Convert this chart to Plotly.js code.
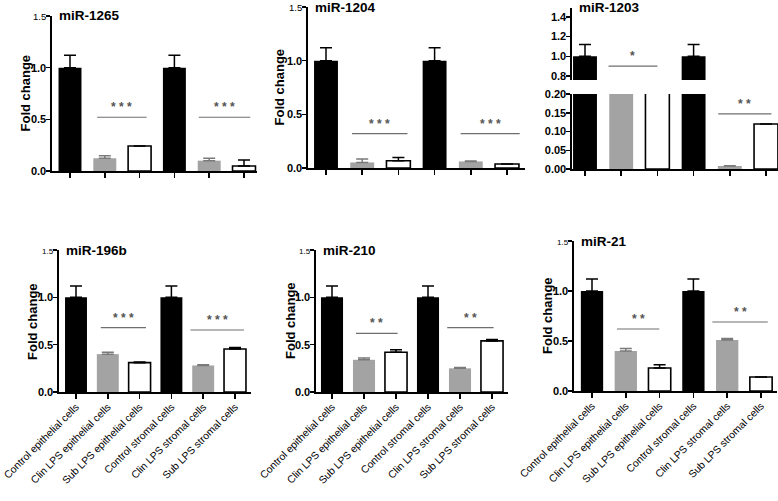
<!DOCTYPE html>
<html>
<head>
<meta charset="utf-8">
<script src="https://cdn.plot.ly/plotly-3.0.1.min.js"></script>
<style>html,body{margin:0;padding:0;background:#fff;}#chart{width:778px;height:501px;}</style>
</head>
<body>
<div id="chart"></div>
<script>
// ---------- DATA ----------
const categories = ['Control epithelial cells','Clin LPS epithelial cells','Sub LPS epithelial cells','Control stromal cells','Clin LPS stromal cells','Sub LPS stromal cells'];
const panelNames = ['miR-1265','miR-1204','miR-1203','miR-196b','miR-210','miR-21'];

const mir1265    = [1.0, 0.123, 0.242, 1.0, 0.10, 0.048];
const mir1265Err = [0.12, 0.025, 0, 0.12, 0.023, 0.058];
const mir1204    = [1.0, 0.052, 0.068, 1.0, 0.061, 0.037];
const mir1204Err = [0.12, 0.031, 0.030, 0.12, 0.004, 0];
const mir1203    = [1.0, 0.45, 0.35, 1.0, 0.008, 0.12];
const mir1203Err = [0.12, 0, 0, 0.12, 0.001, 0];
const mir196b    = [1.0, 0.40, 0.31, 1.0, 0.28, 0.455];
const mir196bErr = [0.12, 0.02, 0.006, 0.12, 0.008, 0.015];
const mir210     = [1.0, 0.34, 0.42, 1.0, 0.25, 0.54];
const mir210Err  = [0.12, 0.02, 0.025, 0.12, 0.008, 0.015];
const mir21      = [1.0, 0.40, 0.23, 1.0, 0.51, 0.14];
const mir21Err   = [0.12, 0.025, 0.032, 0.12, 0.015, 0];

// significance brackets
const sigPanel = [0, 0, 1, 1, 2, 2, 3, 3, 4, 4, 5, 5];
const sigFrom  = [0.78, 3.7, 0.72, 3.72, 0.65, 3.68, 0.78, 3.6, 0.75, 3.6, 0.74, 3.56];
const sigTo    = [2.2, 5.18, 2.25, 5.35, 2.0, 5.15, 2.2, 5.28, 2.05, 5.05, 1.99, 5.2];
const sigY     = [0.52, 0.52, 0.32, 0.32, 0.90, 0.147, 0.68, 0.655, 0.62, 0.68, 0.62, 0.69];
const sigLabel = ['* * *','* * *','* * *','* * *','*','* *','* * *','* * *','* *','* *','* *','* *'];

const allValues = [mir1265, mir1204, mir1203, mir196b, mir210, mir21];
const allErrors = [mir1265Err, mir1204Err, mir1203Err, mir196bErr, mir210Err, mir21Err];

// ---------- LAYOUT GEOMETRY (pixels) ----------
const W = 778, H = 501;
const geo = [
  {xl:52,  xr:257, yb:171, yt:16,  x0:70,  dx:34.8, ymax:1.5, bw:0.66, ytx:25},
  {xl:308, xr:525, yb:168, yt:7,   x0:326, dx:36.2, ymax:1.5, bw:0.66, ytx:279},
  {xl:572, xr:778, yb:169, yt:94,  x0:585, dx:36.2, ymax:0.2, bw:0.66, ytx:0},
  {xl:59,  xr:251, yb:392, yt:250, x0:76,  dx:31.8, ymax:1.5, bw:0.69, ytx:32},
  {xl:316, xr:508, yb:392, yt:250, x0:332, dx:32.0, ymax:1.5, bw:0.69, ytx:290},
  {xl:574, xr:777, yb:391, yt:241, x0:592, dx:33.8, ymax:1.5, bw:0.66, ytx:547}
];

const FONT = 'Arial, "Liberation Sans", sans-serif';
const groups = [
  {idx:[0,3], color:'#000000', line:'#000000', lw:0, err:'#000000'},
  {idx:[1,4], color:'#a3a3a3', line:'#a3a3a3', lw:0, err:'#7a7a7a'},
  {idx:[2,5], color:'#ffffff', line:'#000000', lw:1.6, err:'#000000'}
];

const data = [];
const layout = {
  width: W, height: H,
  margin: {l:0, r:0, t:0, b:0},
  paper_bgcolor: '#fff', plot_bgcolor: 'rgba(0,0,0,0)',
  showlegend: false, barmode: 'overlay',
  font: {family: FONT, color: '#000'},
  shapes: [], annotations: []
};

const catIdx = categories.map((c, i) => i);
const ticks15 = (small) => ['<b>0.0</b>','<b>0.5</b>','<b>1.0</b>','<span style="font-size:' + small + 'px">1.5</span>'];

function yAxisBase() {
  return {
    showgrid: false, zeroline: false,
    showline: true, linecolor: '#000', linewidth: 1.6,
    ticks: 'outside', ticklen: 4, tickwidth: 1.5, tickcolor: '#000',
    ticklabelstandoff: -2,
    tickfont: {family: FONT, size: 11, color: '#000'}, fixedrange: true
  };
}

function addBars(p, xa, ya) {
  const vals = allValues[p], errs = allErrors[p], g = geo[p];
  groups.forEach(gr => {
    data.push({
      type: 'bar', xaxis: xa, yaxis: ya,
      x: gr.idx.map(i => catIdx[i]),
      y: gr.idx.map(i => vals[i]),
      width: g.bw,
      marker: {color: gr.color, line: {color: gr.line, width: gr.lw}},
      error_y: {type: 'data', symmetric: false,
                array: gr.idx.map(i => errs[i]),
                arrayminus: gr.idx.map(() => 0),
                color: gr.err, thickness: 1.5, width: 6},
      hoverinfo: 'skip'
    });
  });
}

for (let p = 0; p < 6; p++) {
  const g = geo[p];
  const n = p + 1;
  const xk = 'xaxis' + (n === 1 ? '' : n), yk = 'yaxis' + (n === 1 ? '' : n);
  const xa = 'x' + (n === 1 ? '' : n), ya = 'y' + (n === 1 ? '' : n);
  const bottomRow = p >= 3;
  layout[xk] = {
    domain: [g.xl / W, g.xr / W],
    range: [(g.xl - g.x0) / g.dx, (g.xr - g.x0) / g.dx],
    anchor: ya, showgrid: false, zeroline: false,
    showline: true, linecolor: '#000', linewidth: 1.8,
    ticks: 'outside', ticklen: 5, tickwidth: 1.5, tickcolor: '#000',
    tickmode: 'array', tickvals: catIdx, ticktext: categories,
    showticklabels: bottomRow, tickangle: -45, ticklabeloverflow: 'allow',
    ticklabelstandoff: -2,
    tickfont: {family: FONT, size: 10.4, color: '#000'}, fixedrange: true
  };
  const yax = Object.assign(yAxisBase(), {
    domain: [1 - g.yb / H, 1 - g.yt / H],
    range: [0, g.ymax], anchor: xa, tickmode: 'array'
  });
  if (p === 2) {
    yax.tickvals = [0, 0.05, 0.10, 0.15, 0.20];
    yax.ticktext = ['<b>0.00</b>','<b>0.05</b>','<b>0.10</b>','<b>0.15</b>','<b>0.20</b>'];
  } else {
    yax.tickvals = [0, 0.5, 1.0, 1.5];
    yax.ticktext = ticks15(bottomRow ? 8 : 9.5);
  }
  layout[yk] = yax;
  addBars(p, xa, ya);

  // panel title
  layout.annotations.push({
    xref: 'paper', yref: 'paper', x: (g.xl + 5) / W, y: 1 - (p === 2 ? 8 : g.yt) / H,
    xanchor: 'left', yanchor: 'middle', showarrow: false,
    text: '<b>' + panelNames[p] + '</b>', font: {family: FONT, size: 13.5, color: '#000'}
  });
  // y-axis title (hidden behind the broken axis for miR-1203)
  if (p !== 2) {
    layout.annotations.push({
      xref: 'paper', yref: 'paper', x: g.ytx / W, y: 1 - ((g.yb + g.yt) / 2) / H,
      xanchor: 'center', yanchor: 'middle', textangle: -90, showarrow: false,
      text: '<b>Fold change</b>', font: {family: FONT, size: 13, color: '#000'}
    });
  }
}

// broken-axis upper segment for miR-1203
layout.yaxis7 = Object.assign(yAxisBase(), {
  domain: [1 - 80 / H, 1 - 8 / H], range: [0.76, 1.49], anchor: 'x3',
  tickmode: 'array', tickvals: [0.8, 1.0, 1.2, 1.4],
  ticktext: ['<b>0.8</b>','<b>1.0</b>','<b>1.2</b>','<b>1.4</b>']
});
addBars(2, 'x3', 'y7');

// significance brackets
for (let k = 0; k < sigPanel.length; k++) {
  const p = sigPanel[k];
  const n = p + 1;
  const xr = 'x' + (n === 1 ? '' : n);
  let yr = 'y' + (n === 1 ? '' : n);
  if (p === 2 && sigY[k] > 0.5) yr = 'y7';
  layout.shapes.push({
    type: 'line', xref: xr, yref: yr,
    x0: sigFrom[k], x1: sigTo[k], y0: sigY[k], y1: sigY[k],
    line: {color: '#6e6e6e', width: 1.2}
  });
  layout.annotations.push({
    xref: xr, yref: yr, x: (sigFrom[k] + sigTo[k]) / 2, y: sigY[k],
    yanchor: 'bottom', xanchor: 'center', yshift: 1, showarrow: false,
    text: '<b>' + sigLabel[k] + '</b>', font: {family: FONT, size: 12, color: '#555'}
  });
}

Plotly.newPlot('chart', data, layout, {staticPlot: true, displayModeBar: false});
</script>
</body>
</html>
